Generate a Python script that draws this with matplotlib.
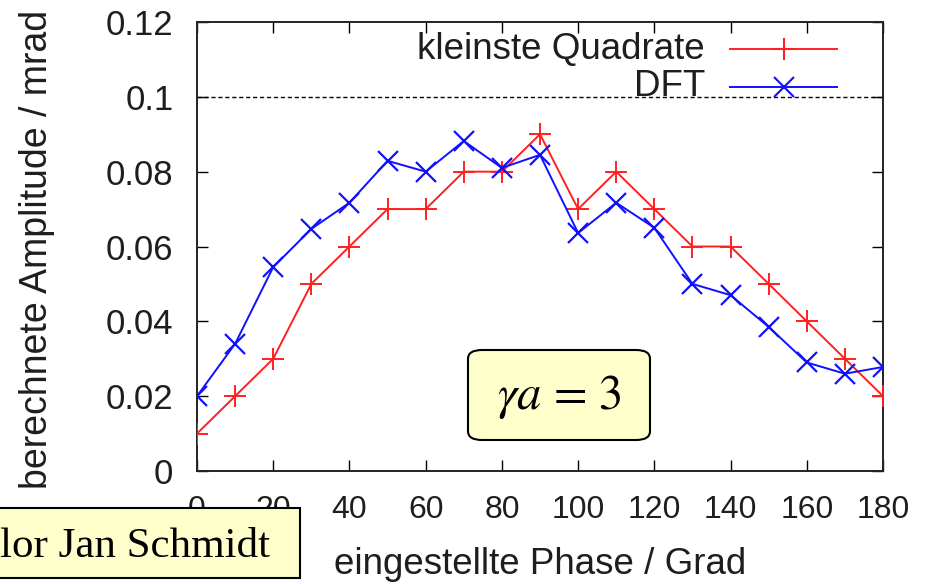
import matplotlib
matplotlib.use("Agg")
import matplotlib.pyplot as plt
from matplotlib.patches import Rectangle, FancyBboxPatch

phase = [0, 10, 20, 30, 40, 50, 60, 70, 80, 90, 100, 110, 120, 130, 140, 150, 160, 170, 180]
kq = [0.010, 0.020, 0.030, 0.050, 0.060, 0.070, 0.070, 0.080, 0.080, 0.090,
      0.070, 0.080, 0.070, 0.060, 0.060, 0.050, 0.040, 0.030, 0.020]
dft = [0.020, 0.034, 0.0545, 0.0647, 0.0717, 0.0829, 0.080, 0.0882, 0.081, 0.0845,
       0.0636, 0.0717, 0.065, 0.050, 0.047, 0.0385, 0.029, 0.026, 0.0278]
xticks = [0, 20, 40, 60, 80, 100, 120, 140, 160, 180]
yticks = [0, 0.02, 0.04, 0.06, 0.08, 0.1, 0.12]
ytick_labels = ["0", "0.02", "0.04", "0.06", "0.08", "0.1", "0.12"]
series_names = ["kleinste Quadrate", "DFT"]

plt.rcParams["mathtext.fontset"] = "stix"

W, H = 934, 584
fig = plt.figure(figsize=(W / 100, H / 100), dpi=100)
fig.patch.set_facecolor("white")

L, R, T, B = 197, 883, 22, 471
ax = fig.add_axes([L / W, (H - B) / H, (R - L) / W, (B - T) / H])
ax.set_xlim(0, 180)
ax.set_ylim(0, 0.12)

sans = "Liberation Sans"
txt = "#1e1e1e"

ax.axhline(0.1, color="black", lw=1.0, ls=(0, (3, 2)), zorder=1)
ax.plot(phase, kq, color="#ff2020", lw=1.4, marker="+", ms=16, mew=1.4, zorder=3)
ax.plot(phase, dft, color="#1010ff", lw=1.4, marker="x", ms=14, mew=1.6, zorder=3)

ax.set_xticks(xticks)
ax.set_yticks(yticks)
ax.set_yticklabels(ytick_labels)
ax.tick_params(direction="in", length=8, width=1.0, top=True, right=True)
ax.tick_params(axis="x", labelsize=23, pad=17)
ax.tick_params(axis="y", labelsize=25, pad=17)
for lab in ax.get_xticklabels() + ax.get_yticklabels():
    lab.set_fontfamily(sans)
    lab.set_color(txt)
for s in ax.spines.values():
    s.set_linewidth(1.4)
    s.set_color("#222222")

def fx(px):
    return px / W
def fy(py):
    return 1 - py / H

# legend drawn manually (gnuplot style)
legend_y = [49, 87]
colors = ["#ff2020", "#1010ff"]
markers = ["+", "x"]
for name, yy, c, m in zip(series_names, legend_y, colors, markers):
    fig.text(fx(705), fy(yy), name, ha="right", va="center", fontsize=26.5,
             family=sans, color=txt, zorder=5)
    fig.add_artist(plt.Line2D([fx(730), fx(837)], [fy(yy), fy(yy)], color=c, lw=1.4, zorder=5))
    fig.add_artist(plt.Line2D([fx(784)], [fy(yy)], color=c, marker=m,
                              ms=16 if m == "+" else 14, mew=1.5, lw=0, zorder=5))

# axis labels
fig.text(fx(540), fy(564), "eingestellte Phase / Grad", ha="center", va="center",
         fontsize=26.5, family=sans, color=txt)
fig.text(fx(37), fy(249), "berechnete Amplitude / mrad", ha="center", va="center",
         rotation=90, fontsize=27, family=sans, color=txt)

# overlay boxes
fig.add_artist(Rectangle((fx(-2), fy(578)), fx(302), (578 - 508) / H,
                         transform=fig.transFigure, facecolor="#ffffcc",
                         edgecolor="black", lw=1.5, zorder=10))
fig.text(fx(0), fy(547), "lor Jan Schmidt", ha="left", va="center",
         fontsize=31, family="Liberation Serif", color="black", zorder=11)

fig.add_artist(FancyBboxPatch((fx(468), fy(440)), fx(650 - 468), (440 - 350) / H,
                              boxstyle="round,pad=0,rounding_size=0.015",
                              transform=fig.transFigure, facecolor="#ffffcc",
                              edgecolor="black", lw=1.5, zorder=10))
fig.text(fx(559), fy(397), r"$\gamma a$ = 3", ha="center", va="center",
         fontsize=35, family="STIXGeneral", color="black", zorder=11)

fig.savefig("out.png", dpi=100)
